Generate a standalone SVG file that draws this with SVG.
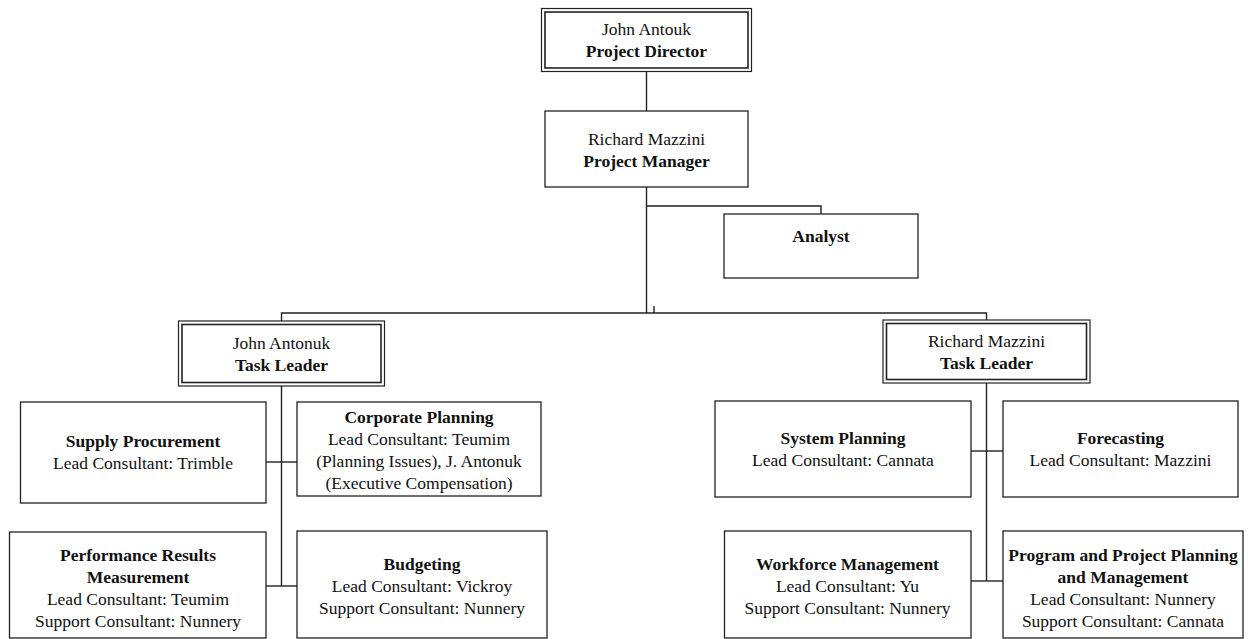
<svg xmlns="http://www.w3.org/2000/svg" width="1248" height="639" viewBox="0 0 1248 639">
<style>
.box{fill:#fff;stroke:#222;stroke-width:1.3}
.outer{fill:#fff;stroke:#222;stroke-width:1.2}
.inner{fill:none;stroke:#222;stroke-width:1.6}
.ln{fill:none;stroke:#222;stroke-width:1.4}
text{font-family:"Liberation Serif","Times New Roman",serif;font-size:17.5px;fill:#111;text-anchor:middle}
.b{font-weight:bold}
</style>
<rect width="1248" height="639" fill="#fff"/>
<g id="connectors">
<path class="ln" d="M646.5 71V111"/>
<path class="ln" d="M646.5 187V313"/>
<path class="ln" d="M646.5 206H821V214"/>
<path class="ln" d="M281.5 321V313H986.5V320"/>
<path class="ln" d="M654 306V313"/>
<path class="ln" d="M281.5 386V586"/>
<path class="ln" d="M266 462H297"/>
<path class="ln" d="M266 586H297"/>
<path class="ln" d="M986.5 383V581"/>
<path class="ln" d="M971 451H1003"/>
<path class="ln" d="M971 581H1003"/>
</g>
<g id="director">
<rect class="outer" x="541.5" y="8.5" width="210" height="63"/>
<rect class="inner" x="545" y="12" width="203" height="56"/>
<text x="646.5" y="35">John Antouk</text>
<text class="b" x="646.5" y="57">Project Director</text>
</g>
<g id="manager">
<rect class="box" x="545" y="111" width="203" height="76"/>
<text x="646.5" y="145">Richard Mazzini</text>
<text class="b" x="646.5" y="167">Project Manager</text>
</g>
<g id="analyst">
<rect class="box" x="724" y="214" width="194" height="64"/>
<text class="b" x="821" y="242">Analyst</text>
</g>
<g id="taskleader-left">
<rect class="outer" x="178.5" y="321" width="206" height="65"/>
<rect class="inner" x="182" y="324.5" width="199" height="58"/>
<text x="281.5" y="349">John Antonuk</text>
<text class="b" x="281.5" y="371">Task Leader</text>
</g>
<g id="taskleader-right">
<rect class="outer" x="883" y="320" width="207" height="63"/>
<rect class="inner" x="886.5" y="323.5" width="200" height="56"/>
<text x="986.5" y="347">Richard Mazzini</text>
<text class="b" x="986.5" y="369">Task Leader</text>
</g>
<g id="supply">
<rect class="box" x="20.5" y="402" width="245.5" height="101"/>
<text class="b" x="143" y="447">Supply Procurement</text>
<text x="143" y="469">Lead Consultant: Trimble</text>
</g>
<g id="corporate">
<rect class="box" x="297" y="402" width="244" height="94"/>
<text class="b" x="419" y="423">Corporate Planning</text>
<text x="419" y="445">Lead Consultant: Teumim</text>
<text x="419" y="467">(Planning Issues), J. Antonuk</text>
<text x="419" y="489">(Executive Compensation)</text>
</g>
<g id="performance">
<rect class="box" x="9.5" y="532" width="256.5" height="106"/>
<text class="b" x="138" y="561">Performance Results</text>
<text class="b" x="138" y="583">Measurement</text>
<text x="138" y="605">Lead Consultant: Teumim</text>
<text x="138" y="627">Support Consultant: Nunnery</text>
</g>
<g id="budgeting">
<rect class="box" x="297" y="531" width="250" height="107"/>
<text class="b" x="422" y="570">Budgeting</text>
<text x="422" y="592">Lead Consultant: Vickroy</text>
<text x="422" y="614">Support Consultant: Nunnery</text>
</g>
<g id="system">
<rect class="box" x="715" y="401" width="256" height="96"/>
<text class="b" x="843" y="444">System Planning</text>
<text x="843" y="466">Lead Consultant: Cannata</text>
</g>
<g id="forecasting">
<rect class="box" x="1003" y="401" width="235" height="96"/>
<text class="b" x="1120.5" y="444">Forecasting</text>
<text x="1120.5" y="466">Lead Consultant: Mazzini</text>
</g>
<g id="workforce">
<rect class="box" x="724.5" y="531" width="246.5" height="107"/>
<text class="b" x="847.5" y="570">Workforce Management</text>
<text x="847.5" y="592">Lead Consultant: Yu</text>
<text x="847.5" y="614">Support Consultant: Nunnery</text>
</g>
<g id="program">
<rect class="box" x="1003" y="531" width="240" height="107"/>
<text class="b" x="1123" y="561">Program and Project Planning</text>
<text class="b" x="1123" y="583">and Management</text>
<text x="1123" y="605">Lead Consultant: Nunnery</text>
<text x="1123" y="627">Support Consultant: Cannata</text>
</g>
</svg>
